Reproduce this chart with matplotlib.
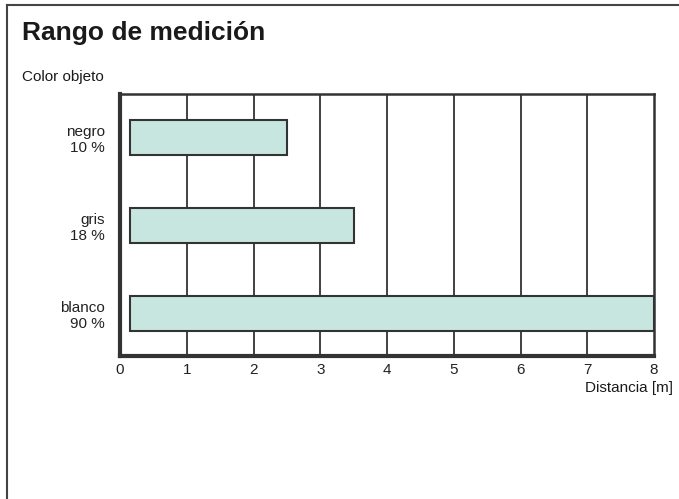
import matplotlib.pyplot as plt
from matplotlib.lines import Line2D

plt.rcParams['font.family'] = ['Liberation Sans', 'DejaVu Sans']

# data
categories = ["blanco\n90 %", "gris\n18 %", "negro\n10 %"]
range_start = [0.15, 0.15, 0.15]
range_end = [8.0, 3.5, 2.5]
x_ticks = [0, 1, 2, 3, 4, 5, 6, 7, 8]

W, H = 679, 499
fig = plt.figure(figsize=(W / 100, H / 100), dpi=100)
ax = fig.add_axes([120 / W, 1 - 356 / H, (654 - 120) / W, (356 - 94) / H])

ypos = list(range(len(categories)))
widths = [e - s for s, e in zip(range_start, range_end)]
ax.barh(ypos, widths, left=range_start, height=0.4, color='#c8e6e0',
        edgecolor='#333333', linewidth=1.5, zorder=3)

for x in x_ticks[1:-1]:
    ax.axvline(x, color='#333333', linewidth=1.3, zorder=1)

ax.set_xlim(0, 8)
ax.set_ylim(-0.48, 2.49)
ax.set_xticks(x_ticks)
ax.set_xticklabels([str(v) for v in x_ticks], fontsize=11)
ax.set_yticks(ypos)
ax.set_yticklabels(categories, fontsize=11, linespacing=1.2)
ax.tick_params(axis='both', length=0, colors='#222222')
ax.tick_params(axis='x', pad=5)
ax.tick_params(axis='y', pad=11)

for side in ['left', 'bottom']:
    ax.spines[side].set_linewidth(3)
    ax.spines[side].set_color('#333333')
for side in ['top', 'right']:
    ax.spines[side].set_linewidth(1.8)
    ax.spines[side].set_color('#333333')

fig.text(22 / W, 1 - 33 / H, "Rango de medición", fontsize=19, fontweight='bold',
         va='center', ha='left', color='#1a1a1a')
fig.text(22 / W, 1 - 77 / H, "Color objeto", fontsize=11, va='center', ha='left',
         color='#1a1a1a')
fig.text(673 / W, 1 - 388 / H, "Distancia [m]", fontsize=11, va='center', ha='right',
         color='#1a1a1a')

# frame lines at top and left
fig.add_artist(Line2D([7 / W, 1], [1 - 5 / H, 1 - 5 / H], color='#444444', linewidth=1.5))
fig.add_artist(Line2D([7 / W, 7 / W], [0, 1 - 5 / H], color='#444444', linewidth=1.5))

fig.savefig('out.png', dpi=100)
